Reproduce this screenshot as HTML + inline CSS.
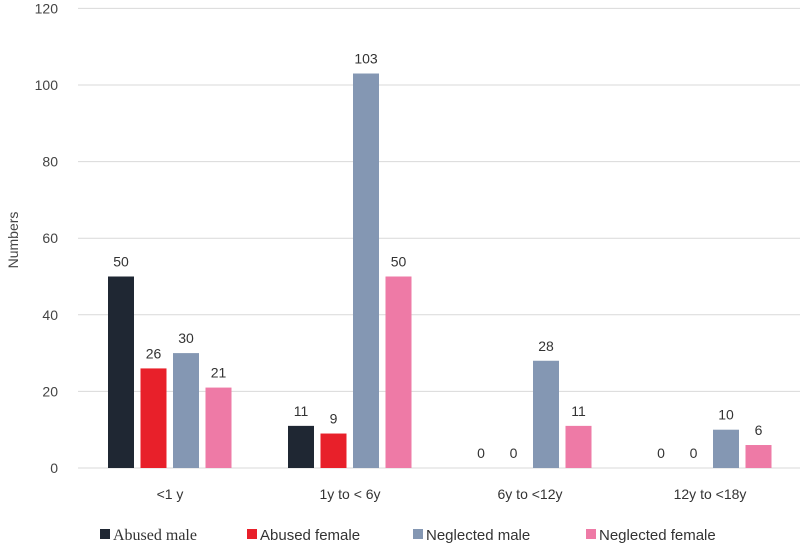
<!DOCTYPE html>
<html><head><meta charset="utf-8"><style>
body{margin:0;background:#fff;}
svg{display:block;font-family:"Liberation Sans",sans-serif;}
</style></head><body>
<svg id="chart" width="800" height="545"></svg>
<script>
const categories=["<1 y","1y to < 6y","6y to <12y","12y to <18y"];
const abusedMale=[50,11,0,0];
const abusedFemale=[26,9,0,0];
const neglectedMale=[30,103,28,10];
const neglectedFemale=[21,50,11,6];
const yTicks=[0,20,40,60,80,100,120];
const seriesNames=["Abused male","Abused female","Neglected male","Neglected female"];
const colors=["#1f2733","#e8202a","#8497b3","#ee7aa6"];
const series=[abusedMale,abusedFemale,neglectedMale,neglectedFemale];
const svg=document.getElementById('chart');
const NS="http://www.w3.org/2000/svg";
const y0=468,pxPer=3.83;
const y=v=>y0-v*pxPer;
const gx=i=>170+i*180;
function mk(t,a){const e=document.createElementNS(NS,t);for(const k in a)e.setAttribute(k,a[k]);svg.appendChild(e);return e;}
yTicks.forEach(t=>{
  const l=mk('line',{x1:78,x2:800,y1:y(t),y2:y(t),stroke:'#d9d9d9','stroke-width':1});
  
  
  const tx=mk('text',{x:58,y:y(t)+5,'text-anchor':'end','font-size':14,fill:'#444'});
  tx.textContent=t;
  
  
});
const yt=mk('text',{x:18,y:240,'text-anchor':'middle','font-size':14,fill:'#444',transform:'rotate(-90 18 240)'});
yt.textContent='Numbers';


categories.forEach((c,i)=>{
  series.forEach((s,j)=>{
    const x=gx(i)-62+j*32.5, v=s[i];
    const r=mk('rect',{x:x,y:y(v),width:26,height:v*pxPer,fill:colors[j]});
    
    
    const t=mk('text',{x:x+13,y:y(v)-10,'text-anchor':'middle','font-size':14,fill:'#333'});
    t.textContent=v;
    
    
  });
  const lb=mk('text',{x:gx(i),y:499,'text-anchor':'middle','font-size':14,fill:'#333'});
  lb.textContent=c;
  
  
});
const lx=[100,247,413,586];
seriesNames.forEach((n,j)=>{
  const r=mk('rect',{x:lx[j],y:529,width:10,height:10,fill:colors[j]});
  
  
  const t=mk('text',{x:lx[j]+13,y:540,'font-size':j==0?16:15,fill:'#333','font-family':j==0?'Liberation Serif, serif':'Liberation Sans, sans-serif'});
  t.textContent=n;
  
  
});
</script>
</body></html>
